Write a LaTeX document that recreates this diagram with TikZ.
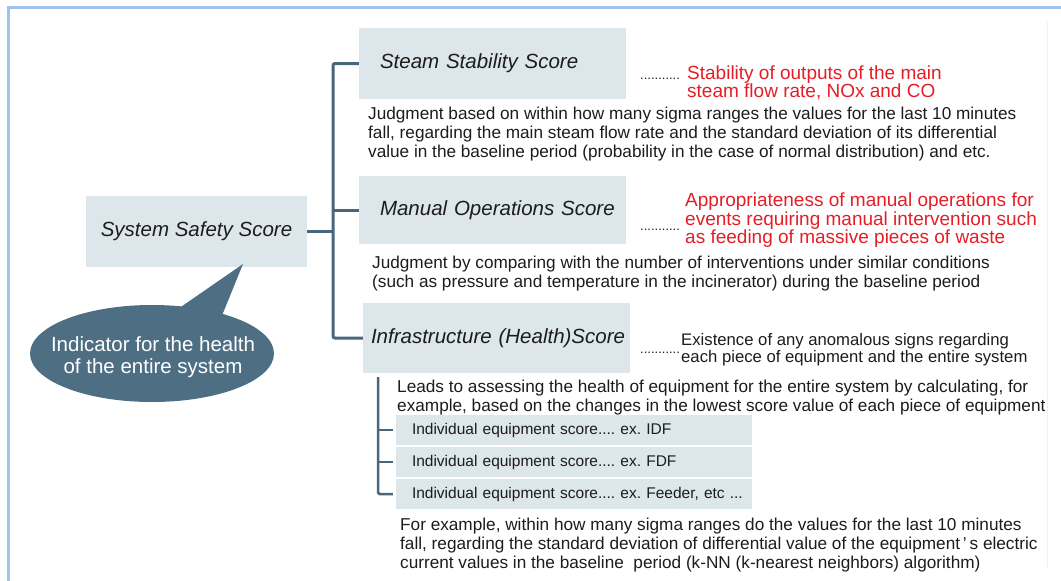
\documentclass[tikz,border=0pt]{standalone}
\usepackage{fontspec}
\setmainfont{Liberation Sans}
\frenchspacing
\definecolor{frameblue}{RGB}{158,197,233}
\definecolor{boxfill}{RGB}{221,230,235}
\definecolor{linec}{RGB}{74,102,122}
\definecolor{bubblec}{RGB}{78,111,131}
\definecolor{redtxt}{RGB}{228,30,38}
\definecolor{txt}{RGB}{28,28,28}
\begin{document}
\frenchspacing
\begin{tikzpicture}[x=1pt,y=-1pt,
  scorebox/.style={fill=boxfill, inner sep=0pt, minimum height=71pt, minimum width=267pt,
    font=\fontsize{20.5}{24}\selectfont\itshape, text=txt},
  conn/.style={draw=linec, line width=3pt},
  body/.style={font=\fontsize{17.2}{19}\selectfont, align=left, anchor=west, inner sep=0pt, text=txt},
  note/.style={font=\fontsize{19}{18.5}\selectfont, align=left, anchor=west, inner sep=0pt, text=redtxt},
  leader/.style={font=\fontsize{13}{13}\selectfont, anchor=base west, inner sep=0pt, text=txt},
  indbox/.style={fill=boxfill, minimum width=356pt, minimum height=30pt, text width=324pt,
    inner xsep=16pt, inner ysep=0pt, align=left, font=\fontsize{15.5}{17}\selectfont, text=txt},
]
\useasboundingbox (0,0) rectangle (1061,581);
% frame
\draw[frameblue, line width=3pt] (8.7,581) -- (8.7,7.5) -- (1061,7.5);
\draw[black!6, line width=1pt] (1047,22) -- (1047,568);

% score boxes
\node[scorebox, minimum width=221pt] (sys) at (196.5,231.5) {System Safety Score};
\node[scorebox, text width=225pt, inner xsep=21pt, align=left] (steam) at (492.5,63.5) {\mbox{Steam Stability Score}};
\node[scorebox, minimum height=68pt, text width=225pt, inner xsep=21pt, align=left] (manual) at (492.5,210) {\mbox{Manual Operations Score}};
\node[scorebox, minimum height=70pt, text width=251pt, inner xsep=8pt, align=left] (infra) at (496.5,338) {\mbox{Infrastructure (Health)Score}};

% connectors
\coordinate (trunk) at (333,231.5);
\draw[conn] (sys.east) -- (trunk);
\draw[conn, rounded corners=2pt] (steam.west) -| (trunk |- infra.west) -- (infra.west);
\draw[conn] (manual.west) -- (manual.west -| trunk);

% bubble
\fill[bubblec] (152,353.5) ellipse [x radius=122pt, y radius=48.5pt];
\fill[bubblec] (175,311) -- (243,264) -- (221,318) -- cycle;
\node[text=white, align=center, inner sep=0pt, font=\fontsize{20.5}{22}\selectfont] (bubble) at (153,357)
  {Indicator for the health\\of the entire system};

% steam texts
\node[leader] (steamdots) at (640,79) {...........};
\node[note] (steamnote) at (687,83) {Stability of outputs of the main\\steam flow rate, NOx and CO};
\node[body] (steamdesc) at (368,134) {Judgment based on within how many sigma ranges the values for the last 10 minutes\\
fall, regarding the main steam flow rate and the standard deviation of its differential\\
value in the baseline period (probability in the case of normal distribution) and etc.};

% manual texts
\node[leader] (mandots) at (640,230) {...........};
\node[note] (mannote) at (685,220.5) {Appropriateness of manual operations for\\events requiring manual intervention such\\as feeding of massive pieces of waste};
\node[body] (mandesc) at (372,273.5) {Judgment by comparing with the number of interventions under similar conditions\\
(such as pressure and temperature in the incinerator) during the baseline period};

% infra texts
\node[leader] (infradots) at (640,353) {...........};
\node[body, font=\fontsize{16.7}{17}\selectfont] (infranote) at (681,349.5) {Existence of any anomalous signs regarding\\each piece of equipment and the entire system};
\node[body] (leads) at (397,397.5) {Leads to assessing the health of equipment for the entire system by calculating, for\\
example, based on the changes in the lowest score value of each piece of equipment};

% individual boxes
\node[indbox] (ind1) at (574,430) {\mbox{Individual equipment score.... ex. IDF}};
\node[indbox] (ind2) at (574,462) {\mbox{Individual equipment score.... ex. FDF}};
\node[indbox] (ind3) at (574,494) {\mbox{Individual equipment score.... ex. Feeder, etc ...}};

\coordinate (sub) at (378,377);
\draw[conn, line width=2.5pt, rounded corners=1.5pt] (sub) |- ([xshift=-3pt]ind3.west);
\draw[conn, line width=2.5pt] (ind1.west -| sub) -- ([xshift=-3pt]ind1.west);
\draw[conn, line width=2.5pt] (ind2.west -| sub) -- ([xshift=-3pt]ind2.west);

\node[body] (final) at (400,545) {For example, within how many sigma ranges do the values for the last 10 minutes\\
fall, regarding the standard deviation of differential value of the equipment\,’\,s electric\\
current values in the baseline\ \ period (k-NN (k-nearest neighbors) algorithm)};
\end{tikzpicture}
\end{document}
